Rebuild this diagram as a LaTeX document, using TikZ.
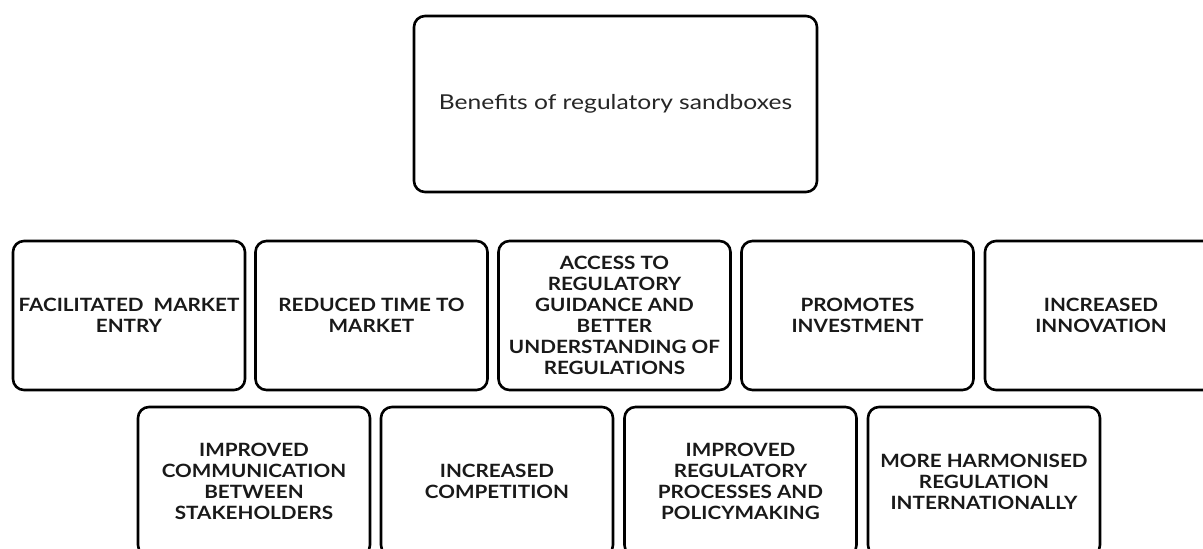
\documentclass[tikz,border=0pt]{standalone}
\usepackage{fontspec}
\setmainfont{Lato}
\newfontfamily\boxfont[FakeStretch=1.13]{Lato}
\newfontfamily\headfont[FakeStretch=1.2]{Lato}
\begin{document}
\begin{tikzpicture}[x=1pt,y=-1pt,
  frame/.style={draw=black, line width=2.6pt, rounded corners=11pt, fill=white,
    minimum width=232pt, minimum height=149pt, inner sep=0pt},
  benefit/.style={frame, align=center, text=black!90,
    font=\boxfont\bfseries\fontsize{18.3}{21}\selectfont},
  title/.style={draw=black, line width=2.6pt, rounded corners=11pt,
    minimum width=403pt, minimum height=176pt, inner sep=0pt,
    text=black!85, font=\headfont\fontsize{20.5}{24}\selectfont}]
  \useasboundingbox (0,0) rectangle (1203,549);
  \clip (0,0) rectangle (1203,549);

  % heading
  \node[title] (head) at (615.5,104) {Benefits of regulatory sandboxes};

  % first row of benefits
  \node[benefit] (b1) at (129,315.5)   {FACILITATED\ \ MARKET\\ENTRY};
  \node[benefit] (b2) at (371.5,315.5) {REDUCED TIME TO\\MARKET};
  \node[benefit] (b3) at (614.5,315.5) {ACCESS TO\\REGULATORY\\GUIDANCE AND\\BETTER\\UNDERSTANDING OF\\REGULATIONS};
  \node[benefit] (b4) at (857.5,315.5) {PROMOTES\\INVESTMENT};
  \node[benefit] (b5) at (1101,315.5)  {INCREASED\\INNOVATION};

  % second row of benefits
  \node[benefit] (b6) at (254,481.5)   {IMPROVED\\COMMUNICATION\\BETWEEN\\STAKEHOLDERS};
  \node[benefit] (b7) at (497,481.5)   {INCREASED\\COMPETITION};
  \node[benefit] (b8) at (740.5,481.5) {IMPROVED\\REGULATORY\\PROCESSES AND\\POLICYMAKING};
  \node[benefit] (b9) at (984,481.5)   {MORE HARMONISED\\REGULATION\\INTERNATIONALLY};
\end{tikzpicture}
\end{document}
